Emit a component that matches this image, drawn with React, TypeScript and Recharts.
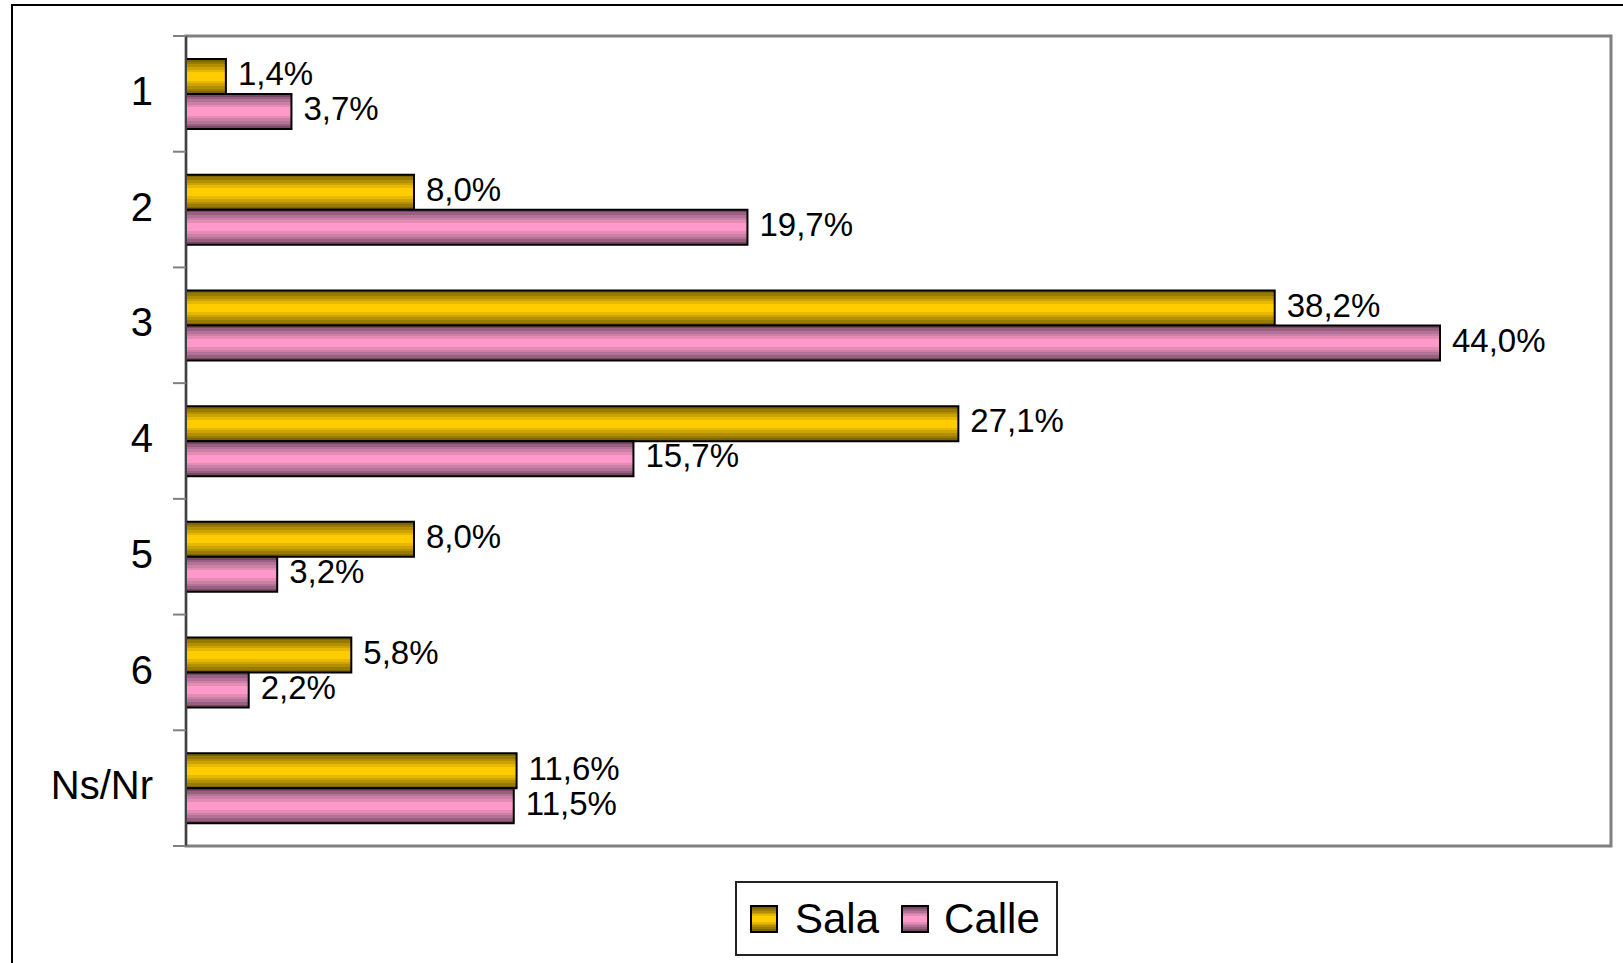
import React from "react";
import {
  BarChart,
  Bar,
  XAxis,
  YAxis,
  Legend,
  LabelList,
  ReferenceArea,
  ReferenceLine,
} from "recharts";

const categories = ["1", "2", "3", "4", "5", "6", "Ns/Nr"];
const salaValues = [1.4, 8.0, 38.2, 27.1, 8.0, 5.8, 11.6];
const calleValues = [3.7, 19.7, 44.0, 15.7, 3.2, 2.2, 11.5];

const data = categories.map((name, i) => ({
  name,
  sala: salaValues[i],
  calle: calleValues[i],
}));

const FONT = "'Liberation Sans', Arial, sans-serif";

const goldBands = ["#7f6600", "#997a00", "#b38f00", "#cca300", "#e6b800", "#ffcc00"];
const pinkBands = ["#7a4a62", "#995f80", "#b37399", "#cc80a6", "#e68cb3", "#ff99cc"];

const fmt = (v: any) => Number(v).toFixed(1).replace(".", ",") + "%";

function bandStops(colors: string[]) {
  // stripes dark -> light -> dark, like the old office 3d bars
  const seq = [...colors, colors[colors.length - 1], ...[...colors].reverse()];
  const n = seq.length;
  const stops: React.ReactElement[] = [];
  seq.forEach((c, i) => {
    stops.push(<stop key={i + "a"} offset={`${(i / n) * 100}%`} stopColor={c} />);
    stops.push(<stop key={i + "b"} offset={`${((i + 1) / n) * 100}%`} stopColor={c} />);
  });
  return stops;
}

function cssBands(colors: string[]) {
  const seq = [...colors, colors[colors.length - 1], ...[...colors].reverse()];
  const n = seq.length;
  const parts = seq.map((c, i) => `${c} ${(i / n) * 100}%, ${c} ${((i + 1) / n) * 100}%`);
  return `linear-gradient(to bottom, ${parts.join(", ")})`;
}

// category label plus the boundary tick marks (excel puts ticks between categories)
function CategoryTick(props: any) {
  const { x, y, payload, index } = props;
  const half = payload && payload.offset ? payload.offset : 0;
  const axisX = 186;
  const last = index === categories.length - 1;
  return (
    <g>
      <line x1={axisX - 13} x2={axisX} y1={y - half} y2={y - half} stroke="#808080" strokeWidth={2} />
      {last && (
        <line x1={axisX - 13} x2={axisX} y1={y + half} y2={y + half} stroke="#808080" strokeWidth={2} />
      )}
      <text x={x} y={y} dy="0.28em" textAnchor="end" fontSize={40} fill="#000" fontFamily={FONT}>
        {payload.value}
      </text>
    </g>
  );
}

function LegendBox() {
  const icon = (bg: string) => ({
    width: 24,
    height: 24,
    border: "2px solid #000",
    background: bg,
    display: "inline-block",
  });
  return (
    <div style={{
      width: 319,
      height: 71,
      border: "2px solid #222",
      background: "#fff",
      display: "flex",
      alignItems: "center",
      fontFamily: FONT,
      fontSize: 42,
      color: "#000",
      boxSizing: "content-box",
    }}>
      <span style={{ ...icon(cssBands(goldBands)), marginLeft: 13 }} />
      <span style={{ marginLeft: 17 }}>Sala</span>
      <span style={{ ...icon(cssBands(pinkBands)), marginLeft: 22 }} />
      <span style={{ marginLeft: 15 }}>Calle</span>
    </div>
  );
}

export default function App() {
  return (
    <div style={{ position: "absolute", left: 0, top: 0, width: 1623, height: 963, background: "#fff", overflow: "hidden" }}>
      <div style={{
        position: "absolute",
        left: 11,
        top: 4,
        width: 1700,
        height: 1100,
        borderTop: "2px solid #000",
        borderLeft: "2px solid #000",
      }} />
      <div style={{ position: "absolute", left: 0, top: 0 }}>
        <BarChart
          width={1623}
          height={963}
          data={data}
          layout="vertical"
          margin={{ top: 36, right: 12, bottom: 117, left: 0 }}
          barCategoryGap={23}
          barGap={0}
        >
          <defs>
            <linearGradient id="goldGrad" x1="0" y1="0" x2="0" y2="1">
              {bandStops(goldBands)}
            </linearGradient>
            <linearGradient id="pinkGrad" x1="0" y1="0" x2="0" y2="1">
              {bandStops(pinkBands)}
            </linearGradient>
          </defs>
          <XAxis type="number" domain={[0, 50]} hide />
          <YAxis
            type="category"
            dataKey="name"
            width={186}
            axisLine={false}
            tickLine={false}
            tickSize={13}
            tickMargin={20}
            tick={<CategoryTick />}
          />
          <ReferenceArea
            x1={0}
            x2={50}
            y1={categories[0]}
            y2={categories[categories.length - 1]}
            fill="none"
            stroke="#808080"
            strokeWidth={3}
            ifOverflow="visible"
          />
          <ReferenceLine x={0} stroke="#404040" strokeWidth={2} ifOverflow="visible" />
          <Legend
            layout="horizontal"
            verticalAlign="middle"
            align="center"
            wrapperStyle={{ left: 735, top: 881, width: 323, height: 75 }}
            content={() => <LegendBox />}
          />
          <Bar dataKey="sala" name="Sala" fill="url(#goldGrad)" stroke="#000" strokeWidth={2} isAnimationActive={false}>
            <LabelList dataKey="sala" position="right" offset={12} dy={-3} formatter={fmt} style={{ fontSize: 33, fill: "#000", fontFamily: FONT }} />
          </Bar>
          <Bar dataKey="calle" name="Calle" fill="url(#pinkGrad)" stroke="#000" strokeWidth={2} isAnimationActive={false}>
            <LabelList dataKey="calle" position="right" offset={12} dy={-3} formatter={fmt} style={{ fontSize: 33, fill: "#000", fontFamily: FONT }} />
          </Bar>
        </BarChart>
      </div>
    </div>
  );
}
